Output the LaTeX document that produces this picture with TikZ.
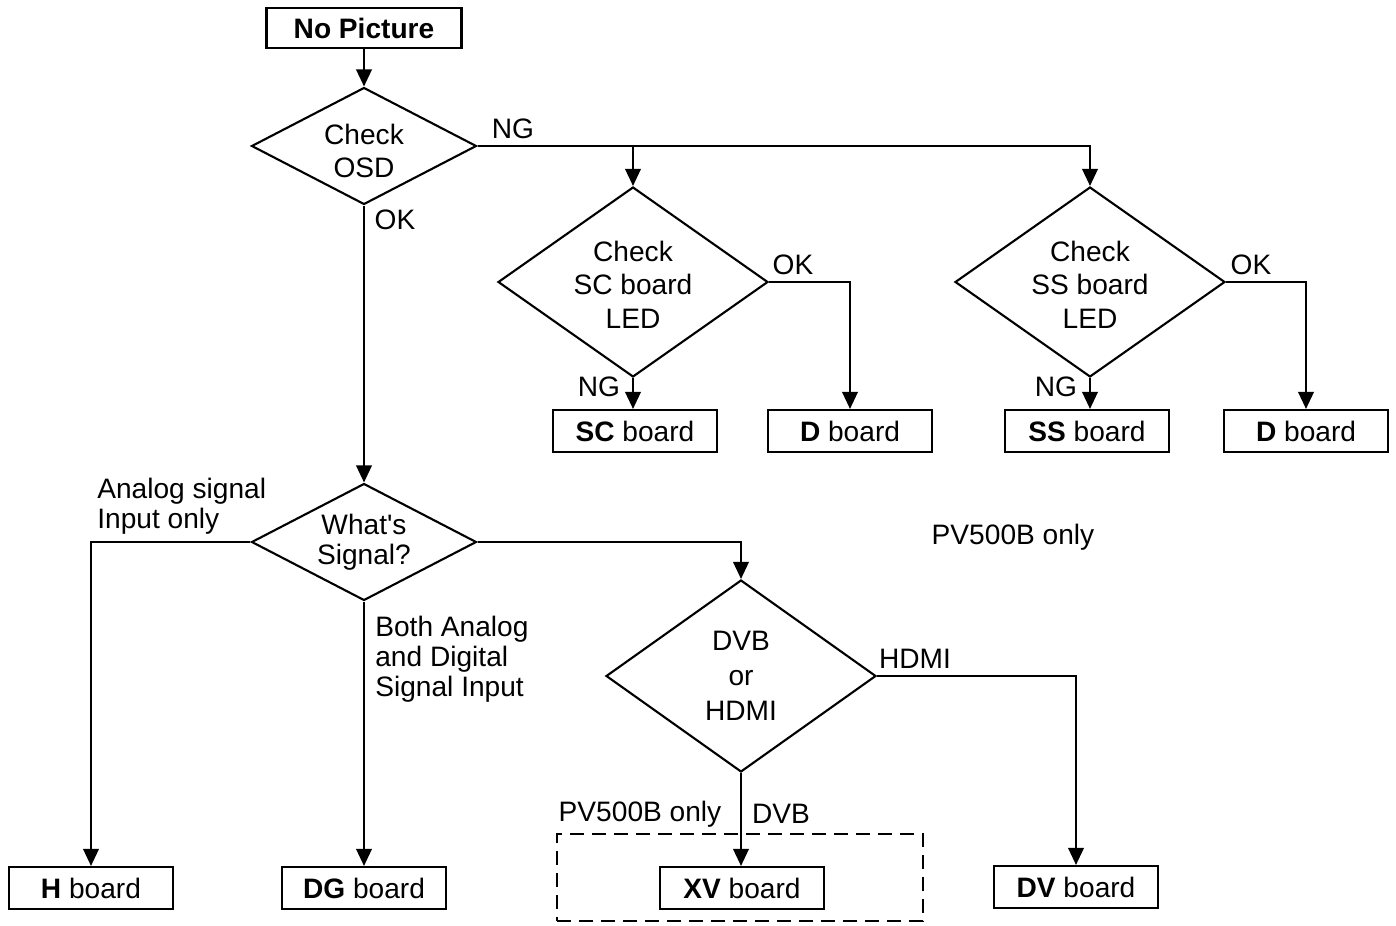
\documentclass[tikz,border=0pt]{standalone}
\usepackage{fontspec}
\setmainfont{Liberation Sans}
\usetikzlibrary{shapes.geometric,arrows.meta}
\begin{document}
\begin{tikzpicture}[x=0.02cm,y=-0.02cm,
  every node/.style={font=\fontsize{16}{18}\selectfont},
  box/.style={draw,line width=1.2pt,minimum width=3.28cm,minimum height=0.84cm,inner sep=0pt},
  dia/.style={draw,diamond,line width=1.2pt,inner sep=0pt,shape aspect=1},
  dtext/.style={align=center,font=\fontsize{16}{19}\selectfont},
  lbl/.style={inner sep=0pt},
  arr/.style={line width=1.2pt,-{Triangle[length=0.34cm,width=0.31cm]}},
  ln/.style={line width=1.2pt}]
\useasboundingbox (0,0) rectangle (1396,926);
% start
\node[box,minimum width=3.9cm,minimum height=0.8cm,font=\fontsize{16}{18}\selectfont\bfseries] (np) at (364,28) {No Picture};
% diamonds
\node[dia,minimum width=4.5cm,minimum height=2.34cm,label={[dtext,yshift=-0.1cm]center:Check\\OSD}] (osd) at (364,146) {};
\node[dia,minimum width=5.4cm,minimum height=3.8cm,label={[dtext,yshift=-0.05cm]center:Check\\SC board\\LED}] (sc) at (633,282) {};
\node[dia,minimum width=5.4cm,minimum height=3.8cm,label={[dtext,yshift=-0.05cm]center:Check\\SS board\\LED}] (ss) at (1090,282) {};
\node[dia,minimum width=4.5cm,minimum height=2.34cm,label={[dtext,font=\fontsize{16}{17}\selectfont]center:What{\textquotesingle}s\\Signal?}] (sig) at (364,542) {};
\node[dia,minimum width=5.4cm,minimum height=3.84cm,label={[dtext,font=\fontsize{16}{20}\selectfont]center:DVB\\or\\HDMI}] (dvb) at (741,676) {};
% boxes
\node[box] (scb) at (635,431) {\textbf{SC} board};
\node[box] (d1) at (850,431) {\textbf{D} board};
\node[box] (ssb) at (1087,431) {\textbf{SS} board};
\node[box] (d2) at (1306,431) {\textbf{D} board};
\node[box] (hb) at (91,888) {\textbf{H} board};
\node[box] (dg) at (364,888) {\textbf{DG} board};
\node[box] (xv) at (742,888) {\textbf{XV} board};
\node[box] (dv) at (1076,887) {\textbf{DV} board};
% dashed region
\node[draw,line width=1.2pt,dash pattern=on 0.28cm off 0.16cm,minimum width=7.32cm,minimum height=1.74cm,inner sep=0pt] (pv) at (740,877.5) {};
% connectors
\draw[arr] (np.south) -- (osd.north);
\draw[arr] (osd.east) -| (ss.north);
\coordinate (scj) at (sc.north |- osd.east);
\draw[arr] (scj) -- (sc.north);
\draw[arr] (osd.south) -- (sig.north);
\draw[arr] (sc.south) -- (sc.south |- scb.north);
\draw[arr] (sc.east) -| (d1.north);
\draw[arr] (ss.south) -- (ss.south |- ssb.north);
\draw[arr] (ss.east) -| (d2.north);
\draw[arr] (sig.west) -| (hb.north);
\draw[arr] (sig.south) -- (dg.north);
\draw[arr] (sig.east) -| (dvb.north);
\draw[arr] (dvb.south) -- (dvb.south |- xv.north);
\draw[arr] (dvb.east) -| (dv.north);
% labels
\node[lbl] (l1) at (513,129) {NG};
\node[lbl] (l2) at (395,220) {OK};
\node[lbl] (l3) at (793,265) {OK};
\node[lbl] (l4) at (599,387) {NG};
\node[lbl] (l5) at (1251,265) {OK};
\node[lbl] (l6) at (1056,387) {NG};
\node[lbl,anchor=west,align=left,font=\fontsize{16}{17}\selectfont] (l7) at (97,506) {Analog signal\\Input only};
\node[lbl,anchor=west,align=left,font=\fontsize{16}{17}\selectfont] (l8) at (375,659) {Both Analog\\and Digital\\Signal Input};
\node[lbl] (l9) at (915,659) {HDMI};
\node[lbl] (l10) at (781,814) {DVB};
\node[lbl] (l11) at (640,814) {PV500B only};
\node[lbl] (l12) at (1013,537) {PV500B only};
\end{tikzpicture}
\end{document}
